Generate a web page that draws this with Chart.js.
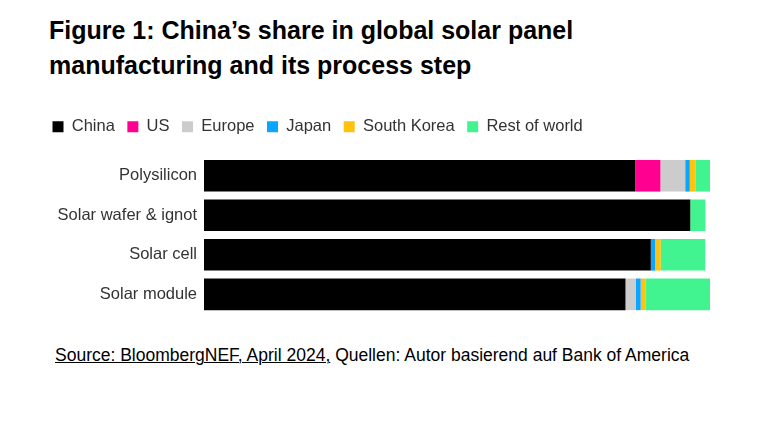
<!DOCTYPE html>
<html lang="en">
<head>
    <meta charset="UTF-8">
    <title>China's share in global solar panel manufacturing</title>
    <script src="https://cdn.jsdelivr.net/npm/chart.js"></script>
    <style>
        body { margin: 0; background: #fff; font-family: "Liberation Sans", Arial, sans-serif; }
        .title { position: absolute; left: 49px; top: 13px; font-size: 25px; font-weight: bold; line-height: 35px; color: #000; }
        .box { position: absolute; left: 40px; top: 105.5px; width: 690px; height: 225px; }
        .source { position: absolute; left: 55px; top: 345px; font-size: 17.5px; color: #000; }
        .source u { text-decoration-thickness: 1px; }
    </style>
</head>
<body>
    <div class="title">Figure 1: China’s share in global solar panel<br>manufacturing and its process step</div>
    <div class="box"><canvas id="shareChart"></canvas></div>
    <div class="source"><u>Source: BloombergNEF, April 2024,</u> Quellen: Autor basierend auf Bank of America</div>

    <script>
        // process steps (share of global capacity, %)
        const steps = ["Polysilicon", "Solar wafer & ignot", "Solar cell", "Solar module"];
        const china = [85.2, 96.1, 88.3, 83.3];
        const us = [5.0, 0, 0, 0];
        const europe = [4.9, 0, 0, 2.0];
        const japan = [0.9, 0, 0.85, 1.0];
        const southKorea = [1.1, 0, 1.1, 1.0];
        const restOfWorld = [2.9, 3.0, 8.8, 12.8];

        // a bit more room between legend and bars
        const legendGap = {
            id: 'legendGap',
            beforeInit(chart) {
                const fit = chart.legend.fit;
                chart.legend.fit = function () {
                    fit.bind(chart.legend)();
                    this.height += 11;
                };
            }
        };

        const ctx = document.getElementById('shareChart').getContext('2d');
        new Chart(ctx, {
            type: 'bar',
            data: {
                labels: steps,
                datasets: [
                    { label: "China", data: china, backgroundColor: "#000000" },
                    { label: "US", data: us, backgroundColor: "#ff0090" },
                    { label: "Europe", data: europe, backgroundColor: "#cccccc" },
                    { label: "Japan", data: japan, backgroundColor: "#0aa5ff" },
                    { label: "South Korea", data: southKorea, backgroundColor: "#ffc20e" },
                    { label: "Rest of world", data: restOfWorld, backgroundColor: "#42f490" }
                ]
            },
            options: {
                indexAxis: 'y',
                responsive: true,
                maintainAspectRatio: false,
                animation: false,
                categoryPercentage: 0.8,
                barPercentage: 1,
                layout: { padding: { left: 0, right: 20, top: 0, bottom: 8 } },
                plugins: {
                    legend: {
                        position: 'top',
                        align: 'start',
                        labels: {
                            boxWidth: 11,
                            boxHeight: 11,
                            padding: 12.5,
                            color: '#333',
                            font: { family: "Liberation Sans", size: 16.5 }
                        }
                    },
                    tooltip: { enabled: false }
                },
                scales: {
                    x: { stacked: true, min: 0, max: 100, display: false },
                    y: {
                        stacked: true,
                        grid: { display: false, drawTicks: false },
                        border: { display: false },
                        ticks: { color: '#333', padding: 7, font: { family: "Liberation Sans", size: 16.5 } },
                        afterFit: (scale) => { scale.width = 164; }
                    }
                }
            },
            plugins: [legendGap]
        });
    </script>
</body>
</html>
